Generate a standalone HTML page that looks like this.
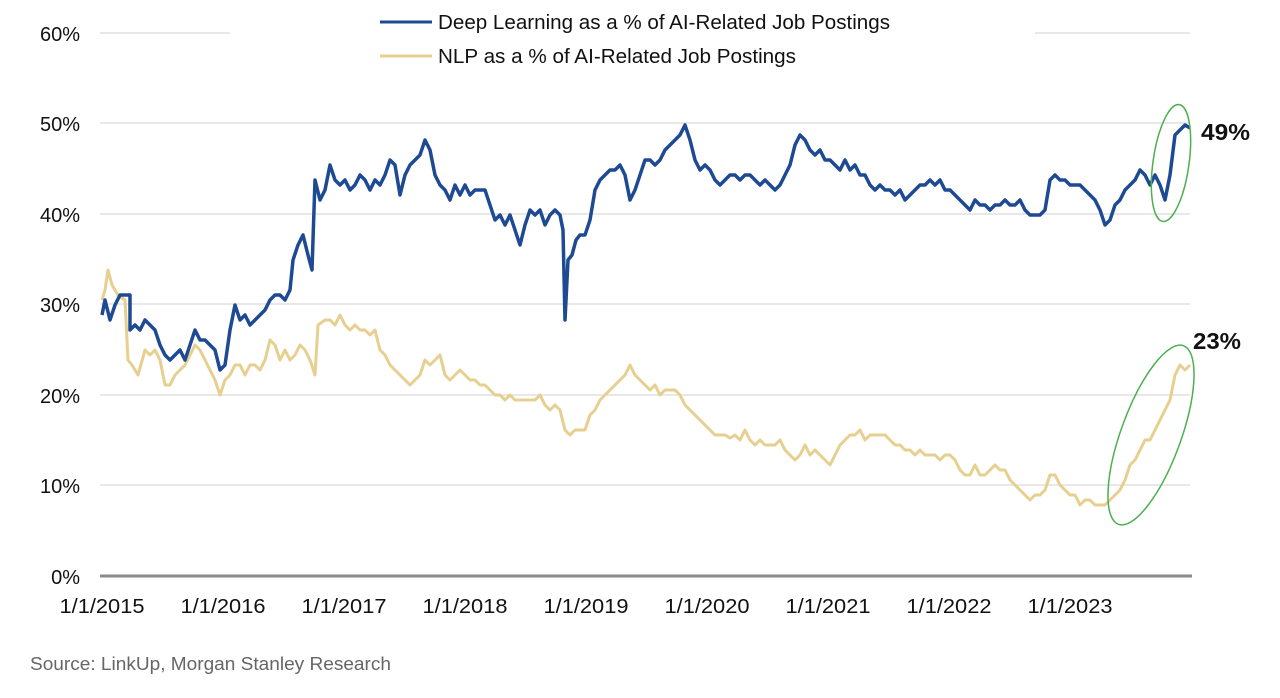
<!DOCTYPE html>
<html><head><meta charset="utf-8"><style>
html,body{margin:0;padding:0;background:#fff}
svg{display:block}
text{font-family:"Liberation Sans Narrow","Liberation Sans",sans-serif}
</style></head><body>
<svg width="1280" height="698" viewBox="0 0 1280 698" xmlns="http://www.w3.org/2000/svg">
<g stroke="#d0d0d0" stroke-width="1">
<line x1="100" y1="33" x2="1190" y2="33"/>
<line x1="100" y1="123" x2="1190" y2="123"/>
<line x1="100" y1="214" x2="1190" y2="214"/>
<line x1="100" y1="304" x2="1190" y2="304"/>
<line x1="100" y1="395" x2="1190" y2="395"/>
<line x1="100" y1="485" x2="1190" y2="485"/>
</g>
<rect x="230" y="5" width="805" height="65" fill="#fff"/>
<line x1="100" y1="576" x2="1192" y2="576" stroke="#8a8a8a" stroke-width="3"/>
<g font-size="20" fill="#111" text-anchor="end">
<text x="80" y="41">60%</text><text x="80" y="131">50%</text><text x="80" y="222">40%</text>
<text x="80" y="312">30%</text><text x="80" y="403">20%</text><text x="80" y="493">10%</text><text x="80" y="584">0%</text>
</g>
<g font-size="20" fill="#111" text-anchor="middle" lengthAdjust="spacingAndGlyphs">
<text x="102" y="613" textLength="85" lengthAdjust="spacingAndGlyphs">1/1/2015</text><text x="223" y="613" textLength="85" lengthAdjust="spacingAndGlyphs">1/1/2016</text><text x="344" y="613" textLength="85" lengthAdjust="spacingAndGlyphs">1/1/2017</text>
<text x="465" y="613" textLength="85" lengthAdjust="spacingAndGlyphs">1/1/2018</text><text x="586" y="613" textLength="85" lengthAdjust="spacingAndGlyphs">1/1/2019</text><text x="707" y="613" textLength="85" lengthAdjust="spacingAndGlyphs">1/1/2020</text>
<text x="828" y="613" textLength="85" lengthAdjust="spacingAndGlyphs">1/1/2021</text><text x="949" y="613" textLength="85" lengthAdjust="spacingAndGlyphs">1/1/2022</text><text x="1070" y="613" textLength="85" lengthAdjust="spacingAndGlyphs">1/1/2023</text>
</g>
<polyline fill="none" stroke="#e6cf8f" stroke-width="3" stroke-linejoin="round" points="102,300 105,290 108,270 112,285 118,295 125,300 128,360 132,365 138,375 145,350 150,355 155,350 160,360 165,385 170,385 175,375 180,370 185,365 190,355 195,345 200,350 205,360 210,370 215,380 220,395 225,380 230,375 235,365 240,365 245,375 250,365 255,365 260,370 265,360 270,340 275,345 280,360 285,350 290,360 295,355 300,345 305,350 310,360 315,375 318,325 325,320 330,320 335,325 340,315 345,325 350,330 355,325 360,330 365,330 370,335 375,330 380,350 385,355 390,365 395,370 400,375 405,380 410,385 415,380 420,375 425,360 430,365 435,360 440,355 445,375 450,380 455,375 460,370 465,375 470,380 475,380 480,385 485,385 490,390 495,395 500,395 505,400 510,395 515,400 520,400 525,400 530,400 535,400 540,395 545,405 550,410 555,405 560,410 565,430 570,435 575,430 580,430 585,430 590,415 595,410 600,400 605,395 610,390 615,385 620,380 625,375 630,365 635,375 640,380 645,385 650,390 655,385 660,395 665,390 670,390 675,390 680,395 685,405 690,410 695,415 700,420 705,425 710,430 715,435 720,435 725,435 730,438 735,435 740,440 745,430 750,440 755,445 760,440 765,445 770,445 775,445 780,440 785,450 790,455 795,460 800,455 805,445 810,455 815,450 820,455 825,460 830,465 835,455 840,445 845,440 850,435 855,435 860,430 865,440 870,435 875,435 880,435 885,435 890,440 895,445 900,445 905,450 910,450 915,455 920,450 925,455 930,455 935,455 940,460 945,455 950,455 955,460 960,470 965,475 970,475 975,465 980,475 985,475 990,470 995,465 1000,470 1005,470 1010,480 1015,485 1020,490 1025,495 1030,500 1035,495 1040,495 1045,490 1050,475 1055,475 1060,485 1065,490 1070,495 1075,495 1080,505 1085,500 1090,500 1095,505 1100,505 1105,505 1110,500 1115,495 1120,490 1125,480 1130,465 1135,460 1140,450 1145,440 1150,440 1155,430 1160,420 1165,410 1170,400 1175,375 1180,365 1185,370 1190,365"/>
<polyline fill="none" stroke="#1d4a92" stroke-width="3.5" stroke-linejoin="round" points="102,315 105,300 110,320 115,305 120,295 125,295 130,295 130,330 135,325 140,330 145,320 150,325 155,330 160,345 165,355 170,360 175,355 180,350 185,360 190,345 195,330 200,340 205,340 210,345 215,350 220,370 225,365 230,330 235,305 240,320 245,315 250,325 255,320 260,315 265,310 270,300 275,295 280,295 285,300 290,290 293,260 298,245 303,235 308,255 312,270 315,180 320,200 325,190 330,165 335,180 340,185 345,180 350,190 355,185 360,175 365,180 370,190 375,180 380,185 385,175 390,160 395,165 400,195 405,175 410,165 415,160 420,155 425,140 430,150 435,175 440,185 445,190 450,200 455,185 460,195 465,185 470,195 475,190 480,190 485,190 490,205 495,220 500,215 505,225 510,215 515,230 520,245 525,225 530,210 535,215 540,210 545,225 550,215 555,210 560,215 563,230 565,320 568,260 572,255 576,240 580,235 585,235 590,220 595,190 600,180 605,175 610,170 615,170 620,165 625,175 630,200 635,190 640,175 645,160 650,160 655,165 660,160 665,150 670,145 675,140 680,135 685,125 690,140 695,160 700,170 705,165 710,170 715,180 720,185 725,180 730,175 735,175 740,180 745,175 750,175 755,180 760,185 765,180 770,185 775,190 780,185 785,175 790,165 795,145 800,135 805,140 810,150 815,155 820,150 825,160 830,160 835,165 840,170 845,160 850,170 855,165 860,175 865,175 870,185 875,190 880,185 885,190 890,190 895,195 900,190 905,200 910,195 915,190 920,185 925,185 930,180 935,185 940,180 945,190 950,190 955,195 960,200 965,205 970,210 975,200 980,205 985,205 990,210 995,205 1000,205 1005,200 1010,205 1015,205 1020,200 1025,210 1030,215 1035,215 1040,215 1045,210 1050,180 1055,175 1060,180 1065,180 1070,185 1075,185 1080,185 1085,190 1090,195 1095,200 1100,210 1105,225 1110,220 1115,205 1120,200 1125,190 1130,185 1135,180 1140,170 1145,175 1150,185 1155,175 1160,185 1165,200 1170,175 1175,135 1180,130 1185,125 1190,128"/>
<ellipse cx="1171" cy="163" rx="18" ry="59" fill="none" stroke="#4caf50" stroke-width="1.5" transform="rotate(8 1171 163)"/>
<ellipse cx="1151" cy="435" rx="30" ry="95" fill="none" stroke="#4caf50" stroke-width="1.5" transform="rotate(20 1151 435)"/>
<text x="1201" y="140" font-size="23" font-weight="bold" fill="#111" textLength="49" lengthAdjust="spacingAndGlyphs">49%</text>
<text x="1193" y="349" font-size="23" font-weight="bold" fill="#111" textLength="48" lengthAdjust="spacingAndGlyphs">23%</text>
<line x1="380" y1="22" x2="432" y2="22" stroke="#1d4a92" stroke-width="3"/>
<text x="438" y="29" font-size="20" fill="#111" textLength="452" lengthAdjust="spacingAndGlyphs">Deep Learning as a % of AI-Related Job Postings</text>
<line x1="380" y1="56" x2="432" y2="56" stroke="#e6cf8f" stroke-width="3"/>
<text x="438" y="63" font-size="20" fill="#111" textLength="358" lengthAdjust="spacingAndGlyphs">NLP as a % of AI-Related Job Postings</text>
<text x="30" y="670" font-size="18" fill="#666" textLength="361" lengthAdjust="spacingAndGlyphs">Source: LinkUp, Morgan Stanley Research</text>
</svg>
</body></html>
